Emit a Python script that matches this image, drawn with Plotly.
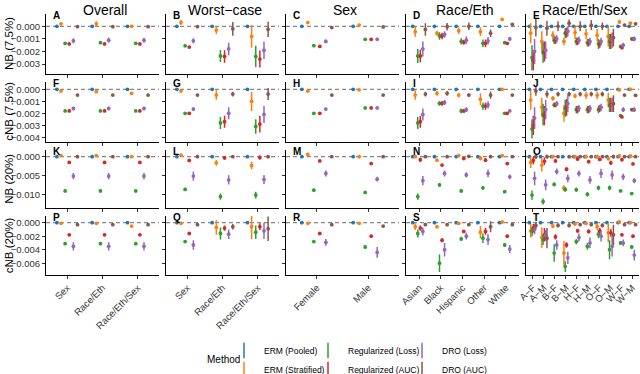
import plotly.graph_objects as go

# categories / labels
METHODS = ["ERM (Pooled)", "ERM (Stratified)", "Regularized (Loss)",
           "Regularized (AUC)", "DRO (Loss)", "DRO (AUC)"]
COLORS = ["#1F77B4", "#FF7F0E", "#2CA02C", "#D62728", "#9467BD", "#8C564B"]
COLUMNS = ["Overall", "Worst−case", "Sex", "Race/Eth", "Race/Eth/Sex"]
COL_CATS = [
    ["Sex", "Race/Eth", "Race/Eth/Sex"],
    ["Sex", "Race/Eth", "Race/Eth/Sex"],
    ["Female", "Male"],
    ["Asian", "Black", "Hispanic", "Other", "White"],
    ["A−F", "A−M", "B−F", "B−M", "H−F", "H−M", "O−F", "O−M", "W−F", "W−M"],
]
ROWS = ["NB (7.5%)", "cNB (7.5%)", "NB (20%)", "cNB (20%)"]
LETTERS = "ABCDEFGHIJKLMNOPQRST"

# values: 23 slots per row = Overall(3) | Worst-case(3) | Sex(2) | Race/Eth(5) | Race/Eth/Sex(10)
POOLED = [0.0] * 23
POOLED_ERR = [0.0] * 23

# ---- NB (7.5%)
NB75_STRAT = [0.0002, 0.0002, 0.0, 0.0003, -0.0003, -0.0008, 0.0003, 0.0001,
              -0.00043, -0.00055, -0.00035, -0.00043, 0.00055,
              -0.00055, -0.0012, -0.0007, -0.0012, -0.0005, -0.0006, -0.0007, -0.0008, 0.00035, 0.00025]
NB75_STRAT_ERR = [0.0001, 0.0002, 0.0001, 0.0002, 0.0003, 0.0009, 0.0001, 0.0001,
                  0.0004, 0.0002, 0.00025, 0.00035, 0.0001,
                  0.0008, 0.0008, 0.0003, 0.0003, 0.0005, 0.0004, 0.0005, 0.0008, 0.00015, 0.0001]
NB75_REGL = [-0.00135, -0.0013, -0.00135, -0.00155, -0.00236, -0.0024, -0.00154, -0.00103,
             -0.00236, -0.00077, -0.0012, -0.00135, -0.0013,
             -0.0025, -0.0021, -0.0011, -0.00055, -0.0012, -0.0013, -0.0014, -0.0012, -0.0016, -0.001]
NB75_REGL_ERR = [0.00008, 0.00008, 0.00008, 0.0001, 0.00048, 0.00085, 0.00008, 0.00008,
                 0.00055, 0.0003, 0.00025, 0.0003, 0.0001,
                 0.001, 0.0008, 0.0003, 0.0004, 0.0003, 0.0003, 0.0004, 0.0006, 0.0001, 0.0001]
NB75_REGA = [-0.0014, -0.0014, -0.0014, -0.00165, -0.0024, -0.0026, -0.0016, -0.00103,
             -0.00236, -0.00077, -0.00127, -0.00135, -0.00135,
             -0.0027, -0.002, -0.0011, -0.0005, -0.0012, -0.0013, -0.0014, -0.0012, -0.0017, -0.001]
NB75_REGA_ERR = [0.00008, 0.00008, 0.00008, 0.0001, 0.0005, 0.00068, 0.00008, 0.00008,
                 0.0005, 0.00025, 0.0002, 0.0003, 0.0001,
                 0.0008, 0.0008, 0.0003, 0.0004, 0.0003, 0.0003, 0.0003, 0.0006, 0.0001, 0.0001]
NB75_DROL = [-0.00115, -0.0011, -0.0011, -0.00115, -0.0018, -0.0019, -0.0012, -0.00103,
             -0.0018, -0.00065, -0.0011, -0.00115, -0.001,
             -0.002, -0.0019, -0.001, -0.0004, -0.0011, -0.0012, -0.0012, -0.0011, -0.0015, -0.001]
NB75_DROL_ERR = [0.0002, 0.0002, 0.0002, 0.0002, 0.0005, 0.0007, 0.00015, 0.00012,
                 0.0006, 0.00025, 0.0003, 0.0003, 0.00015,
                 0.001, 0.0007, 0.0003, 0.0004, 0.0003, 0.0003, 0.0003, 0.0006, 0.0002, 0.0002]
NB75_DROA = [-0.00003, -0.00003, -0.00003, -0.00003, -0.0002, -0.00024, -0.0001, -0.00005,
             -0.00025, -0.00003, 0.0, -0.00055, 0.00015,
             -0.0001, -0.00015, 0.0, 0.00025, 0.0, 0.0001, 0.0, -0.0009, 0.0001, 0.0002]
NB75_DROA_ERR = [0.00005, 0.00005, 0.00005, 0.00005, 0.00055, 0.0006, 0.00008, 0.00008,
                 0.0005, 0.0003, 0.0003, 0.0003, 0.00008,
                 0.0007, 0.0006, 0.0004, 0.0003, 0.0004, 0.0004, 0.0003, 0.0007, 0.0001, 0.0001]

# ---- cNB (7.5%)
CNB75_STRAT = [-0.00014, -0.0002, -0.00033, -0.00014, -0.00048, -0.001, -0.00014, -0.00005,
               -0.00048, -0.00033, -0.00048, -0.00083, 0.0,
               -0.0009, -0.0015, -0.00075, -0.002, -0.00055, -0.0005, -0.0005, -0.0009, -0.00005, 0.0]
CNB75_STRAT_ERR = [0.00005, 0.0001, 0.00005, 0.00005, 0.0004, 0.0008, 0.00005, 0.00005,
                   0.0004, 0.0002, 0.0002, 0.0005, 0.00005,
                   0.0008, 0.0008, 0.0002, 0.0007, 0.0002, 0.0003, 0.0003, 0.0006, 0.00005, 0.00005]
CNB75_REGL = [-0.0018, -0.0018, -0.0018, -0.002, -0.0028, -0.0031, -0.002, -0.00155,
              -0.0028, -0.00117, -0.0018, -0.0014, -0.002,
              -0.0033, -0.0021, -0.0013, -0.0016, -0.0017, -0.0017, -0.0017, -0.0013, -0.0022, -0.0017]
CNB75_REGL_ERR = [0.0001, 0.0001, 0.0001, 0.0001, 0.0005, 0.0006, 0.0001, 0.0001,
                  0.0005, 0.0002, 0.0002, 0.0003, 0.0001,
                  0.0008, 0.0009, 0.0002, 0.0007, 0.0003, 0.0003, 0.0003, 0.0006, 0.0001, 0.0001]
CNB75_REGA = [-0.0018, -0.0018, -0.0018, -0.002, -0.0027, -0.0029, -0.002, -0.00155,
              -0.0027, -0.00117, -0.0018, -0.0014, -0.002,
              -0.003, -0.0022, -0.0013, -0.0015, -0.0017, -0.0017, -0.0016, -0.0013, -0.0023, -0.0017]
CNB75_REGA_ERR = [0.0001, 0.0001, 0.0001, 0.0001, 0.0005, 0.0007, 0.0001, 0.0001,
                  0.0005, 0.0002, 0.00015, 0.0003, 0.0001,
                  0.0008, 0.0008, 0.0002, 0.0007, 0.0003, 0.0003, 0.0003, 0.0006, 0.0001, 0.0001]
CNB75_DROL = [-0.0016, -0.0016, -0.0016, -0.00165, -0.002, -0.0021, -0.00165, -0.00155,
              -0.0021, -0.0011, -0.0017, -0.0013, -0.0018,
              -0.0024, -0.0017, -0.0012, -0.0012, -0.0016, -0.0016, -0.0015, -0.0013, -0.0017, -0.0017]
CNB75_DROL_ERR = [0.00015, 0.00015, 0.00015, 0.00015, 0.0005, 0.0007, 0.00012, 0.0001,
                  0.0005, 0.0002, 0.0002, 0.0003, 0.0001,
                  0.0009, 0.0008, 0.0002, 0.0007, 0.0003, 0.0003, 0.0003, 0.0006, 0.0002, 0.0002]
CNB75_DROA = [-0.00048, -0.00048, -0.00048, -0.00048, -0.0004, -0.0004, -0.00048, -0.00048,
              -0.0004, -0.00033, -0.00048, -0.00048, -0.00048,
              -0.00014, -0.0004, -0.0004, -0.0004, -0.0004, -0.0004, -0.0004, -0.0012, -0.00048, -0.0005]
CNB75_DROA_ERR = [0.00005, 0.00005, 0.00005, 0.00005, 0.0002, 0.0005, 0.00005, 0.00005,
                  0.0002, 0.0002, 0.00015, 0.0003, 0.00005,
                  0.0004, 0.0003, 0.0002, 0.0002, 0.0002, 0.0002, 0.0002, 0.0007, 0.00005, 0.00005]

# ---- NB (20%)
NB20_STRAT = [0.0003, 0.0003, 0.0, 0.0004, -0.0016, -0.0023, 0.0006, 0.0,
              0.0, -0.0009, 0.0003, -0.0004, 0.0003,
              -0.0015, -0.0022, 0.0, -0.0083, 0.0, 0.0, 0.0, -0.0005, 0.0002, 0.0002]
NB20_STRAT_ERR = [0.0002, 0.0003, 0.0002, 0.0002, 0.0008, 0.001, 0.0002, 0.0002,
                  0.0003, 0.0002, 0.0002, 0.0005, 0.0002,
                  0.0015, 0.0017, 0.0003, 0.0008, 0.0003, 0.0003, 0.0005, 0.0005, 0.0002, 0.0002]
NB20_REGL = [-0.009, -0.009, -0.009, -0.0086, -0.0105, -0.0101, -0.0088, -0.0094,
             -0.0105, -0.0074, -0.009, -0.0082, -0.0092,
             -0.0101, -0.0118, -0.0073, -0.0086, -0.0087, -0.0099, -0.0082, -0.0082, -0.009, -0.0097]
NB20_REGL_ERR = [0.0004, 0.0004, 0.0004, 0.0004, 0.0008, 0.0009, 0.0004, 0.0004,
                 0.0008, 0.0005, 0.0005, 0.0005, 0.0003,
                 0.0012, 0.0008, 0.0005, 0.0006, 0.0005, 0.0006, 0.0006, 0.0006, 0.0003, 0.0004]
NB20_REGA = [-0.0015, -0.0015, -0.0015, -0.001, -0.0003, -0.0002, -0.0011, -0.0018,
             -0.0008, -0.0022, -0.0005, -0.0009, -0.0018,
             -0.001, -0.0012, -0.0011, -0.0033, -0.0006, -0.0013, -0.0007, -0.0016, -0.0008, -0.0019]
NB20_REGA_ERR = [0.0002, 0.0002, 0.0002, 0.0002, 0.0005, 0.0005, 0.0002, 0.0002,
                 0.0005, 0.0003, 0.0003, 0.0005, 0.0002,
                 0.001, 0.001, 0.0004, 0.0005, 0.0004, 0.0004, 0.0004, 0.0006, 0.0003, 0.0003]
NB20_DROL = [-0.0051, -0.0051, -0.0051, -0.0051, -0.0061, -0.006, -0.0044, -0.0059,
             -0.0063, -0.0044, -0.0048, -0.0044, -0.0053,
             -0.0057, -0.0074, -0.0039, -0.0057, -0.0044, -0.0061, -0.0044, -0.0048, -0.0053, -0.0063]
NB20_DROL_ERR = [0.0008, 0.0008, 0.0008, 0.0012, 0.0012, 0.0012, 0.0008, 0.0006,
                 0.0012, 0.0008, 0.0007, 0.001, 0.0006,
                 0.0018, 0.0014, 0.0008, 0.001, 0.0008, 0.001, 0.0012, 0.0012, 0.0008, 0.0007]
NB20_DROA = [0.0, 0.0, 0.0, 0.0, 0.0, 0.0, 0.0, 0.0,
             0.0, 0.0, 0.0001, 0.0, 0.0,
             0.0, 0.0, 0.0, 0.0, 0.0, 0.0, 0.0, 0.0, 0.0, 0.0]
NB20_DROA_ERR = [0.0001, 0.0001, 0.0001, 0.0001, 0.0003, 0.0004, 0.0001, 0.0001,
                 0.0003, 0.0002, 0.0002, 0.0003, 0.0001,
                 0.0006, 0.0005, 0.0002, 0.0004, 0.0002, 0.0002, 0.0002, 0.0005, 0.0001, 0.0001]

# ---- cNB (20%)
CNB20_STRAT = [-0.0001, -0.0001, -0.0005, -0.0001, -0.0007, -0.0006, -0.0001, -0.0001,
               -0.0006, -0.0006, -0.0001, -0.0014, 0.0001,
               -0.0012, -0.0022, -0.0005, -0.0045, -0.0002, -0.0001, -0.0006, -0.0015, 0.0001, 0.0]
CNB20_STRAT_ERR = [0.0001, 0.0001, 0.0001, 0.0001, 0.0011, 0.0018, 0.0001, 0.0001,
                   0.0005, 0.0002, 0.0002, 0.0009, 0.0001,
                   0.001, 0.0015, 0.0003, 0.0018, 0.0002, 0.0002, 0.0005, 0.0014, 0.0001, 0.0001]
CNB20_REGL = [-0.0031, -0.0031, -0.0031, -0.0028, -0.0016, -0.0014, -0.0028, -0.0036,
              -0.0016, -0.006, -0.0024, -0.0023, -0.0033,
              -0.0013, -0.0025, -0.0045, -0.0065, -0.0028, -0.0035, -0.0017, -0.004, -0.003, -0.0036]
CNB20_REGL_ERR = [0.0002, 0.0002, 0.0002, 0.0002, 0.0009, 0.001, 0.0002, 0.0003,
                  0.0006, 0.0013, 0.0003, 0.0007, 0.0003,
                  0.0007, 0.0008, 0.0013, 0.0008, 0.0004, 0.0005, 0.0006, 0.0014, 0.0003, 0.0003]
CNB20_REGA = [-0.0018, -0.0018, -0.0018, -0.0016, -0.0008, -0.0006, -0.0016, -0.002,
              -0.0008, -0.0026, -0.0013, -0.0013, -0.002,
              -0.0008, -0.0018, -0.0021, -0.0033, -0.0012, -0.0013, -0.0012, -0.0015, -0.0018, -0.002]
CNB20_REGA_ERR = [0.0001, 0.0001, 0.0001, 0.0001, 0.0004, 0.0005, 0.0001, 0.0001,
                  0.0004, 0.0003, 0.0002, 0.0005, 0.0002,
                  0.0006, 0.001, 0.0004, 0.0004, 0.0003, 0.0003, 0.0004, 0.0006, 0.0002, 0.0002]
CNB20_DROL = [-0.0035, -0.0035, -0.0035, -0.0033, -0.0017, -0.0012, -0.0029, -0.0044,
              -0.0013, -0.004, -0.002, -0.0025, -0.0039,
              -0.001, -0.0019, -0.0033, -0.0052, -0.0022, -0.003, -0.002, -0.0035, -0.003, -0.0048]
CNB20_DROL_ERR = [0.0006, 0.0006, 0.0006, 0.0007, 0.0007, 0.0012, 0.0005, 0.0008,
                  0.0006, 0.001, 0.0005, 0.0008, 0.0006,
                  0.0007, 0.0008, 0.0007, 0.0009, 0.0006, 0.0008, 0.0008, 0.0015, 0.0005, 0.0008]
CNB20_DROA = [-0.0003, -0.0003, -0.0003, -0.0003, -0.0006, -0.0009, -0.0003, -0.0005,
              -0.0003, -0.0003, -0.0003, -0.0006, -0.0003,
              -0.0004, -0.0023, -0.0004, -0.0004, -0.0003, -0.0003, -0.0004, -0.0018, -0.0003, -0.0003]
CNB20_DROA_ERR = [0.0001, 0.0001, 0.0001, 0.0001, 0.0004, 0.0018, 0.0001, 0.0001,
                  0.0002, 0.0002, 0.0001, 0.0008, 0.0001,
                  0.0005, 0.0015, 0.0003, 0.0003, 0.0002, 0.0002, 0.0003, 0.0015, 0.0001, 0.0001]

ROW_DATA = [
    ([POOLED, NB75_STRAT, NB75_REGL, NB75_REGA, NB75_DROL, NB75_DROA],
     [POOLED_ERR, NB75_STRAT_ERR, NB75_REGL_ERR, NB75_REGA_ERR, NB75_DROL_ERR, NB75_DROA_ERR]),
    ([POOLED, CNB75_STRAT, CNB75_REGL, CNB75_REGA, CNB75_DROL, CNB75_DROA],
     [POOLED_ERR, CNB75_STRAT_ERR, CNB75_REGL_ERR, CNB75_REGA_ERR, CNB75_DROL_ERR, CNB75_DROA_ERR]),
    ([POOLED, NB20_STRAT, NB20_REGL, NB20_REGA, NB20_DROL, NB20_DROA],
     [POOLED_ERR, NB20_STRAT_ERR, NB20_REGL_ERR, NB20_REGA_ERR, NB20_DROL_ERR, NB20_DROA_ERR]),
    ([POOLED, CNB20_STRAT, CNB20_REGL, CNB20_REGA, CNB20_DROL, CNB20_DROA],
     [POOLED_ERR, CNB20_STRAT_ERR, CNB20_REGL_ERR, CNB20_REGA_ERR, CNB20_DROL_ERR, CNB20_DROA_ERR]),
]

Y_RANGES = [[-0.00379, 0.00098], [-0.00435, 0.00061], [-0.0135, 0.0019], [-0.00767, 0.00099]]
Y_TICKS = [[0, -0.001, -0.002, -0.003], [0, -0.001, -0.002, -0.003, -0.004],
           [0, -0.005, -0.010], [0, -0.002, -0.004, -0.006]]
Y_TICKTEXT = [["0.000", "−0.001", "−0.002", "−0.003"],
              ["0.000", "−0.001", "−0.002", "−0.003", "−0.004"],
              ["0.000", "−0.005", "−0.010"],
              ["0.000", "−0.002", "−0.004", "−0.006"]]

# layout (pixels)
W, H = 640, 374
COL_LEFT = [46, 166, 286, 406, 526]
PW = 113
ROW_TOP = [14, 82, 149.5, 216]
ROW_BOT = [74, 141.5, 208, 274.5]
DODGE = 0.7 / 6
FONT = "Liberation Sans, Arial, sans-serif"

fig = go.Figure()
annotations = []
shapes = []
layout_axes = {}

for r in range(4):
    means, errs = ROW_DATA[r]
    start = 0
    for c in range(5):
        k = r * 5 + c + 1
        cats = COL_CATS[c]
        n = len(cats)
        xname = "x" if k == 1 else f"x{k}"
        yname = "y" if k == 1 else f"y{k}"
        for m in range(6):
            fig.add_trace(go.Scatter(
                x=[i + 1 + (m - 2.5) * DODGE for i in range(n)],
                y=means[m][start:start + n],
                mode="markers",
                marker=dict(color=COLORS[m], size=3.8),
                error_y=dict(type="data", array=errs[m][start:start + n], visible=True,
                             thickness=1.5, width=0, color=COLORS[m]),
                xaxis=xname, yaxis=yname, showlegend=False, hoverinfo="skip",
            ))
        start += n

        x0 = COL_LEFT[c] / W
        x1 = (COL_LEFT[c] + PW) / W
        y0 = 1 - ROW_BOT[r] / H
        y1 = 1 - ROW_TOP[r] / H
        layout_axes["xaxis" if k == 1 else f"xaxis{k}"] = dict(
            domain=[x0, x1], anchor=yname, range=[0.4, n + 0.6], automargin=False,
            tickvals=list(range(1, n + 1)), ticktext=cats,
            showticklabels=(r == 3), tickangle=-45,
            ticks="outside", ticklen=3, tickcolor="#333", tickwidth=1,
            showline=True, linecolor="black", linewidth=1.2,
            showgrid=False, zeroline=False, fixedrange=True,
            tickfont=dict(size=9.5, color="#333", family=FONT),
        )
        layout_axes["yaxis" if k == 1 else f"yaxis{k}"] = dict(
            domain=[y0, y1], anchor=xname, range=Y_RANGES[r], automargin=False,
            tickvals=Y_TICKS[r], ticktext=Y_TICKTEXT[r],
            showticklabels=(c == 0),
            ticks="outside", ticklen=3, tickcolor="#333", tickwidth=1,
            showline=True, linecolor="black", linewidth=1.2,
            showgrid=False, zeroline=False, fixedrange=True,
            tickfont=dict(size=9.5, color="#333", family=FONT),
        )
        shapes.append(dict(type="line", xref=f"{xname} domain", yref=yname,
                           x0=0, x1=1, y0=0, y1=0, layer="below",
                           line=dict(color="#888", width=1.2, dash="4px,3px")))
        annotations.append(dict(text=f"<b>{LETTERS[k - 1]}</b>", xref="paper", yref="paper",
                                x=(COL_LEFT[c] + 5) / W, y=1 - (ROW_TOP[r] + 1.5) / H,
                                xanchor="left", yanchor="middle", showarrow=False,
                                font=dict(size=10, color="black", family=FONT)))

    annotations.append(dict(text=ROWS[r], xref="paper", yref="paper", textangle=-90,
                            x=9 / W, y=1 - (ROW_TOP[r] + ROW_BOT[r]) / 2 / H,
                            xanchor="center", yanchor="middle", showarrow=False,
                            font=dict(size=11.5, color="black", family=FONT)))

for c in range(5):
    annotations.append(dict(text=COLUMNS[c], xref="paper", yref="paper",
                            x=(COL_LEFT[c] + PW / 2 + 2) / W, y=1,
                            xanchor="center", yanchor="top", showarrow=False,
                            font=dict(size=14, color="black", family=FONT)))

annotations.append(dict(text="Method", xref="paper", yref="paper",
                        x=205 / W, y=1 - 359 / H, xanchor="left", yanchor="middle",
                        showarrow=False, font=dict(size=10, color="black", family=FONT)))

# legend key traces (three columns of two)
LEGEND_OF = ["legend", "legend", "legend2", "legend2", "legend3", "legend3"]
for m in range(6):
    fig.add_trace(go.Scatter(
        x=[None], y=[None], mode="markers", name=METHODS[m],
        marker=dict(symbol="line-ns-open", size=11, color=COLORS[m],
                    line=dict(color=COLORS[m], width=1.5)),
        legend=LEGEND_OF[m], showlegend=True,
    ))

legend_style = dict(yanchor="top", xanchor="left", y=1 - 336 / H,
                    font=dict(size=8.5, color="black", family=FONT),
                    bgcolor="rgba(0,0,0,0)", itemwidth=30, tracegroupgap=0,
                    orientation="v")

fig.update_layout(
    width=W, height=H,
    margin=dict(l=0, r=0, t=0, b=0, autoexpand=False),
    paper_bgcolor="white", plot_bgcolor="white",
    font=dict(family=FONT, color="black"),
    annotations=annotations, shapes=shapes,
    legend=dict(x=224 / W, **legend_style),
    legend2=dict(x=308 / W, **legend_style),
    legend3=dict(x=402 / W, **legend_style),
    **layout_axes,
)

fig.write_html("out.html", config={"displayModeBar": False},
               post_script="document.body.style.margin='0';")
